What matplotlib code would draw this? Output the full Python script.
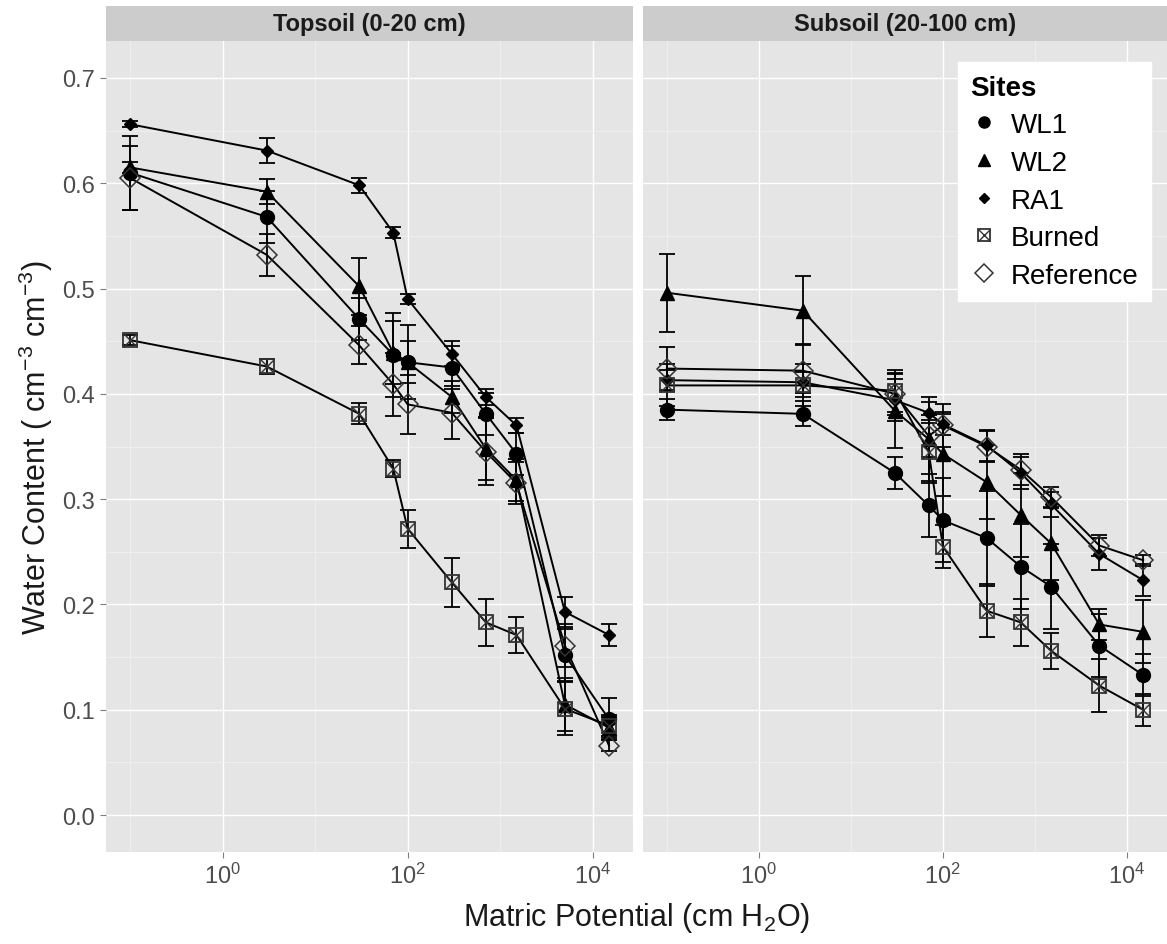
## water retention curves for topsoil and subsoil, ggplot-like facets

import numpy as np
import matplotlib
matplotlib.use('Agg')
import matplotlib.pyplot as plt
from matplotlib.lines import Line2D
from matplotlib.ticker import NullFormatter

plt.rcParams['font.family'] = ['Liberation Sans', 'DejaVu Sans']
plt.rcParams['mathtext.fontset'] = 'custom'
plt.rcParams['mathtext.rm'] = 'Liberation Sans'
plt.rcParams['mathtext.it'] = 'Liberation Sans'

# matric potential (cm H2O)
potential = [0.1, 3, 30, 70, 100, 300, 700, 1500, 5000, 15000]
sites = ['WL1', 'WL2', 'RA1', 'Burned', 'Reference']
panels = ['Topsoil (0-20 cm)', 'Subsoil (20-100 cm)']

# topsoil water content and error
top_wl1 = [0.610, 0.568, 0.471, 0.437, 0.430, 0.425, 0.381, 0.343, 0.152, 0.091]
top_wl2 = [0.615, 0.592, 0.502, 0.439, 0.430, 0.397, 0.348, 0.318, 0.105, 0.083]
top_ra1 = [0.656, 0.631, 0.598, 0.553, 0.490, 0.438, 0.397, 0.370, 0.193, 0.171]
top_burned = [0.451, 0.426, 0.381, 0.329, 0.272, 0.221, 0.183, 0.171, 0.101, 0.085]
top_reference = [0.605, 0.532, 0.446, 0.409, 0.390, 0.382, 0.345, 0.315, 0.161, 0.066]

top_wl1_err = [0.035, 0.025, 0.020, 0.040, 0.035, 0.020, 0.020, 0.020, 0.025, 0.020]
top_wl2_err = [0.005, 0.012, 0.027, 0.030, 0.020, 0.015, 0.030, 0.020, 0.025, 0.010]
top_ra1_err = [0.003, 0.012, 0.007, 0.005, 0.005, 0.012, 0.008, 0.007, 0.014, 0.010]
top_burned_err = [0.005, 0.007, 0.010, 0.008, 0.018, 0.023, 0.022, 0.017, 0.025, 0.010]
top_reference_err = [0.030, 0.020, 0.018, 0.030, 0.028, 0.025, 0.032, 0.020, 0.020, 0.005]

# subsoil water content and error
sub_wl1 = [0.385, 0.381, 0.325, 0.294, 0.280, 0.263, 0.236, 0.217, 0.161, 0.133]
sub_wl2 = [0.496, 0.479, 0.384, 0.357, 0.343, 0.316, 0.285, 0.258, 0.181, 0.174]
sub_ra1 = [0.413, 0.411, 0.394, 0.382, 0.371, 0.351, 0.325, 0.295, 0.248, 0.223]
sub_burned = [0.408, 0.408, 0.403, 0.345, 0.255, 0.194, 0.183, 0.156, 0.123, 0.100]
sub_reference = [0.424, 0.422, 0.400, 0.360, 0.370, 0.350, 0.328, 0.302, 0.256, 0.242]

sub_wl1_err = [0.010, 0.012, 0.015, 0.030, 0.040, 0.045, 0.040, 0.040, 0.030, 0.020]
sub_wl2_err = [0.037, 0.033, 0.035, 0.040, 0.040, 0.035, 0.040, 0.035, 0.015, 0.030]
sub_ra1_err = [0.010, 0.010, 0.020, 0.010, 0.010, 0.015, 0.015, 0.012, 0.015, 0.015]
sub_burned_err = [0.020, 0.020, 0.020, 0.030, 0.020, 0.025, 0.022, 0.017, 0.025, 0.015]
sub_reference_err = [0.020, 0.025, 0.020, 0.020, 0.020, 0.015, 0.015, 0.010, 0.010, 0.005]

top_values = [top_wl1, top_wl2, top_ra1, top_burned, top_reference]
top_errors = [top_wl1_err, top_wl2_err, top_ra1_err, top_burned_err, top_reference_err]
sub_values = [sub_wl1, sub_wl2, sub_ra1, sub_burned, sub_reference]
sub_errors = [sub_wl1_err, sub_wl2_err, sub_ra1_err, sub_burned_err, sub_reference_err]

# marker styles per site (ggplot shapes 16, 17, 18, 7, 5)
marker_style = {
    'WL1': dict(marker='o', ms=10, mfc='black', mec='black'),
    'WL2': dict(marker='^', ms=10, mfc='black', mec='black'),
    'RA1': dict(marker='D', ms=6, mfc='black', mec='black'),
    'Burned': dict(marker='s', ms=10, mfc='none', mec='#333333', mew=1.3),
    'Reference': dict(marker='D', ms=10, mfc='none', mec='#333333', mew=1.1),
}

W, H = 1167, 945
fig = plt.figure(figsize=(W / 100, H / 100), dpi=100)

def px_axes(x0, y0, x1, y1):
    # axes from pixel box (top-left origin)
    return fig.add_axes([x0 / W, 1 - y1 / H, (x1 - x0) / W, (y1 - y0) / H])

ax_left = px_axes(106, 42, 633, 853)
ax_right = px_axes(643, 42, 1167, 853)
axes = [ax_left, ax_right]

panel_bg = '#E5E5E5'

for ax, values, errors, title in zip(axes, [top_values, sub_values], [top_errors, sub_errors], panels):
    ax.set_facecolor(panel_bg)
    for s in ax.spines.values():
        s.set_visible(False)
    ax.set_xscale('log')
    ax.set_xlim(10 ** -1.259, 10 ** 4.435)
    ax.set_ylim(-0.035, 0.735)

    ax.set_xticks([1, 100, 10000])
    ax.set_xticks([0.1, 10, 1000], minor=True)
    ax.xaxis.set_minor_formatter(NullFormatter())
    ax.set_yticks(np.arange(0, 0.71, 0.1))
    ax.set_yticks(np.arange(0.05, 0.70, 0.1), minor=True)
    ax.grid(True, which='major', color='white', lw=1.0)
    ax.grid(True, which='minor', color='#F0F0F0', lw=0.6)
    ax.set_axisbelow(True)
    ax.tick_params(which='minor', length=0)
    ax.tick_params(which='major', length=4, width=0.8, color='#7F7F7F',
                   labelsize=17, labelcolor='#4D4D4D', pad=4)

    for site, y, err in zip(sites, values, errors):
        ax.plot(potential, y, color='black', lw=1.4, zorder=3)
        ax.errorbar(potential, y, yerr=err, fmt='none', ecolor='black',
                    elinewidth=1.3, capsize=6, capthick=1.3, zorder=4)
        ax.plot(potential, y, ls='none', zorder=5, **marker_style[site])
        if site == 'Burned':
            ax.plot(potential, y, ls='none', marker='x', ms=10, mec='#333333',
                    mew=1.0, zorder=6)

    # facet strip
    strip = fig.add_axes([ax.get_position().x0, 1 - 42 / H,
                          ax.get_position().width, 35 / H])
    strip.set_facecolor('#CCCCCC')
    strip.set_xticks([])
    strip.set_yticks([])
    for s in strip.spines.values():
        s.set_visible(False)
    strip.text(0.5, 0.5, title, ha='center', va='center', fontsize=17,
               fontweight='bold', color='#1A1A1A')

ax_right.tick_params(axis='y', left=False, labelleft=False)

# axis titles
fig.text(0.5 * (106 + 1167) / W, 1 - 918 / H,
         'Matric Potential (cm H$_2$O)', ha='center', va='center',
         fontsize=22, color='#1A1A1A')
fig.text(36 / W, 1 - 448 / H, 'Water Content ( cm$^{-3}$ cm$^{-3}$)',
         ha='center', va='center', rotation=90, fontsize=22, color='#1A1A1A')

# legend with point keys only
legend_ms = {'WL1': 8, 'WL2': 8, 'RA1': 5, 'Burned': 8, 'Reference': 9}
handles = []
for site in sites:
    st = dict(marker_style[site])
    st['ms'] = legend_ms[site]
    h = Line2D([], [], ls='none', **st)
    if site == 'Burned':
        h = (h, Line2D([], [], ls='none', marker='x', ms=legend_ms[site],
                       mec='#333333', mew=1.0))
    handles.append(h)

leg = fig.legend(handles, sites, title='Sites', loc='upper right',
                 bbox_to_anchor=(1151 / W, 1 - 63 / H), borderaxespad=0,
                 frameon=True, fancybox=False, fontsize=20, title_fontsize=20,
                 labelspacing=0.42, handlelength=1.0, handletextpad=0.45,
                 borderpad=0.45, alignment='left')
leg.get_frame().set_facecolor('white')
leg.get_frame().set_edgecolor('white')
leg.get_frame().set_alpha(1)
leg.get_title().set_fontweight('bold')

plt.savefig('out.png', dpi=100)
